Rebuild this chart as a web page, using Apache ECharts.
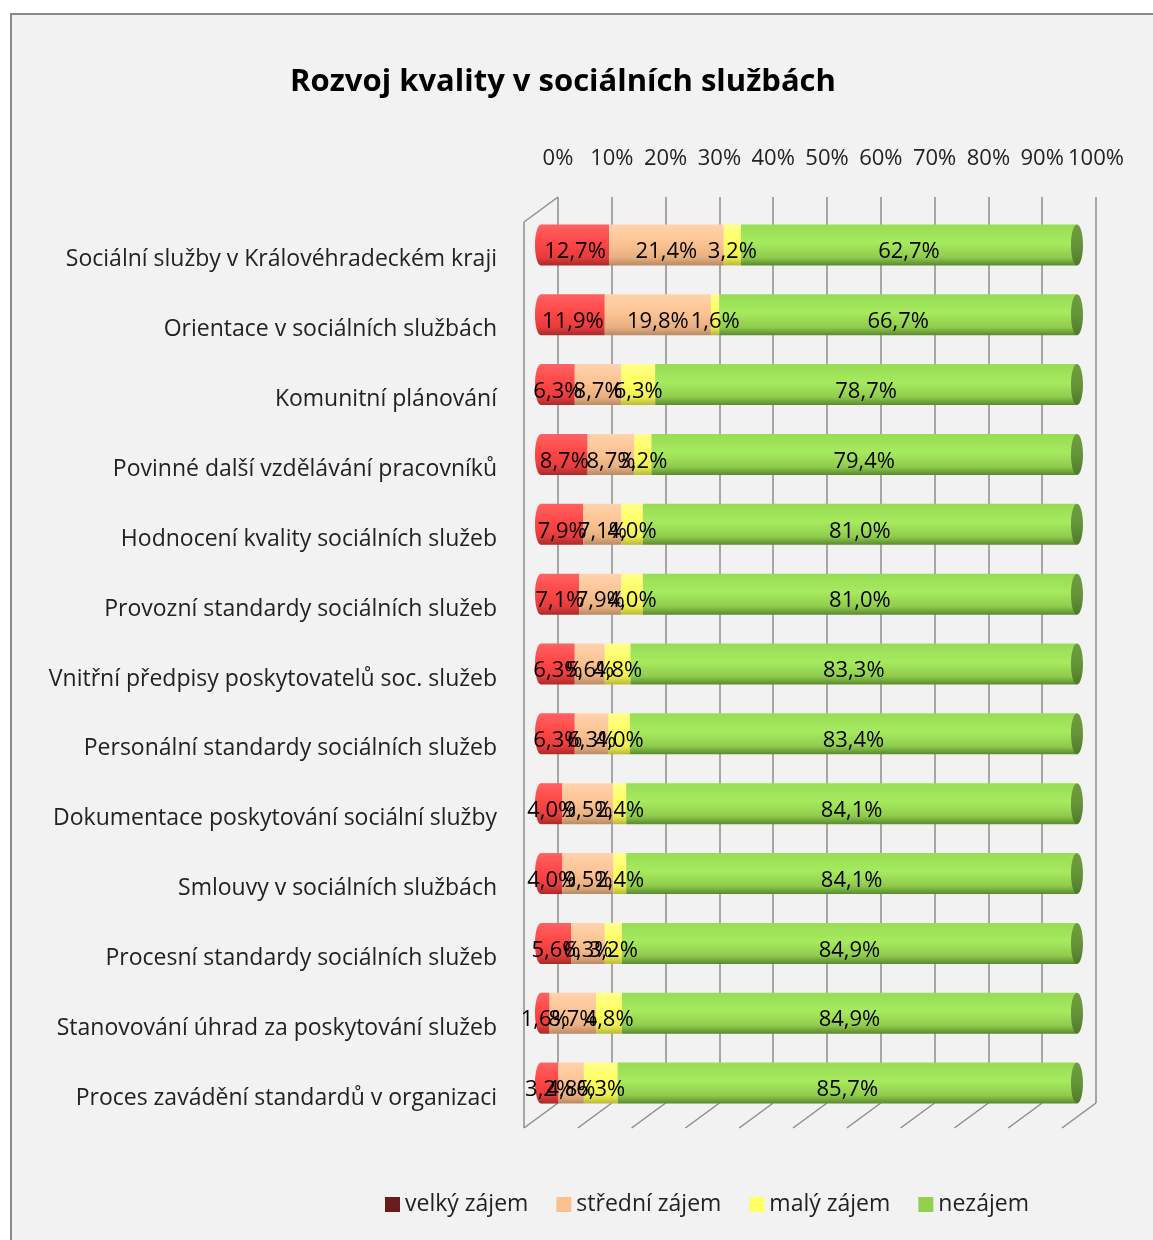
<!DOCTYPE html>
<html><head><meta charset="utf-8">
<script src="https://cdn.jsdelivr.net/npm/echarts@6/dist/echarts.min.js"></script>
<style>
html,body{margin:0;padding:0;background:#fff;}
#frame{position:absolute;left:10px;top:13px;width:1160px;height:1240px;background:#f2f2f2;border-left:2px solid #8a8a8a;border-top:2px solid #8a8a8a;}
#chart{position:absolute;left:0;top:0;width:1153px;height:1240px;}
</style></head>
<body>
<div id="frame"></div>
<div id="chart"></div>
<script>
const categories = [
  'Sociální služby v Královéhradeckém kraji',
  'Orientace v sociálních službách',
  'Komunitní plánování',
  'Povinné další vzdělávání pracovníků',
  'Hodnocení kvality sociálních služeb',
  'Provozní standardy sociálních služeb',
  'Vnitřní předpisy poskytovatelů soc. služeb',
  'Personální standardy sociálních služeb',
  'Dokumentace poskytování sociální služby',
  'Smlouvy v sociálních službách',
  'Procesní standardy sociálních služeb',
  'Stanovování úhrad za poskytování služeb',
  'Proces zavádění standardů v organizaci'
];
const velky   = [12.7, 11.9, 6.3, 8.7, 7.9, 7.1, 6.3, 6.3, 4.0, 4.0, 5.6, 1.6, 3.2];
const stredni = [21.4, 19.8, 8.7, 8.7, 7.1, 7.9, 5.6, 6.3, 9.5, 9.5, 6.3, 8.7, 4.8];
const maly    = [3.2, 1.6, 6.3, 3.2, 4.0, 4.0, 4.8, 4.0, 2.4, 2.4, 3.2, 4.8, 6.3];
const nezajem = [62.7, 66.7, 78.7, 79.4, 81.0, 81.0, 83.3, 83.4, 84.1, 84.1, 84.9, 84.9, 85.7];
const seriesNames = ['velký zájem', 'střední zájem', 'malý zájem', 'nezájem'];
const xMin = 0, xMax = 100, xStep = 10;

const FONT = '"Open Sans", Lato, sans-serif';
const BACK_TOP = 197, BACK_BOTTOM = 1103, DX = -34, DY = 25;
const BAR_W = 41;

function grad(stops){
  return new echarts.graphic.LinearGradient(0,0,0,1, stops.map((c,i)=>({offset:c[0], color:c[1]})));
}
const fills = [
  grad([[0,'#ff6262'],[0.45,'#ff4646'],[0.8,'#e63c3c'],[1,'#a82a2a']]),
  grad([[0,'#ffd3ad'],[0.45,'#fcc393'],[0.8,'#e8b080'],[1,'#b88a64']]),
  grad([[0,'#ffff8a'],[0.45,'#ffff60'],[0.8,'#eeee50'],[1,'#b8b838']]),
  grad([[0,'#98dc56'],[0.45,'#a6ea5e'],[0.8,'#90cc4c'],[1,'#5a8a2e']])
];
const legendColors = ['#6a1c1c', '#fac090', '#ffff66', '#92d050'];
const dataSets = [velky, stredni, maly, nezajem];

const fmt = p => p.value.toFixed(1).replace('.', ',') + '%';

const barSeries = dataSets.map((d, i) => ({
  name: seriesNames[i],
  type: 'bar',
  stack: 'total',
  xAxisIndex: 1, yAxisIndex: 1,
  barWidth: BAR_W,
  data: d,
  z: 3,
  itemStyle: { color: fills[i] },
  label: {
    show: true, position: 'inside', formatter: fmt,
    color: '#000', fontFamily: FONT, fontSize: 22, offset: [0, 7]
  }
}));

const leftCap = {
  type: 'custom', name: 'leftCap', xAxisIndex: 1, yAxisIndex: 1, z: 2,
  data: categories.map((c, i) => [0, i]),
  renderItem: (params, api) => {
    const p = api.coord([api.value(0), api.value(1)]);
    return { type: 'ellipse', shape: { cx: p[0], cy: p[1], rx: 6, ry: BAR_W/2 },
      style: { fill: fills[0] } };
  },
  silent: true
};
const rightCap = {
  type: 'custom', name: 'rightCap', xAxisIndex: 1, yAxisIndex: 1, z: 4,
  data: categories.map((c, i) => [xMax, i]),
  renderItem: (params, api) => {
    const p = api.coord([api.value(0), api.value(1)]);
    return { type: 'ellipse', shape: { cx: p[0], cy: p[1], rx: 6, ry: BAR_W/2 },
      style: { fill: grad([[0,'#6e9e3a'],[0.5,'#66943a'],[1,'#4e7a26']]) } };
  },
  silent: true
};

const chart = echarts.init(document.getElementById('chart'), null, { renderer: 'canvas' });
const option = {
  backgroundColor: 'transparent',
  animation: false,
  textStyle: { fontFamily: FONT },
  legend: {
    data: seriesNames.map((n, i) => ({ name: n, itemStyle: { color: legendColors[i] } })),
    left: 380, top: 1188, icon: 'rect', itemWidth: 15, itemHeight: 15, itemGap: 28,
    textStyle: { fontSize: 23, color: '#222', fontFamily: FONT }
  },
  grid: [
    { left: 558, right: 1153 - 1096, top: BACK_TOP, bottom: 1240 - BACK_BOTTOM },
    { left: 541, right: 1153 - 1077, top: 210, bottom: 1240 - 1118 }
  ],
  xAxis: [
    { type: 'value', gridIndex: 0, position: 'top', min: xMin, max: xMax, interval: xStep,
      axisLine: { show: false }, axisTick: { show: false },
      axisLabel: { formatter: '{value}%', fontSize: 22, color: '#222', margin: 27, fontFamily: FONT },
      splitLine: { show: true, lineStyle: { color: '#8c8c8c', width: 1.5 } } },
    { type: 'value', gridIndex: 1, min: xMin, max: xMax, interval: xStep, show: false,
      splitLine: { show: false } }
  ],
  yAxis: [
    { type: 'category', gridIndex: 0, data: categories, inverse: true, show: false },
    { type: 'category', gridIndex: 1, data: categories, inverse: true,
      axisLine: { show: false }, axisTick: { show: false },
      axisLabel: { fontSize: 23, color: '#222', margin: 44, verticalAlign: 'top', lineHeight: 30, fontFamily: FONT } }
  ],
  series: [leftCap, ...barSeries, rightCap]
};
chart.setOption(option);

// 3D frame: floor diagonals, top-left diagonal and front-left edge derived from the back-wall axis
const lines = [];
const ls = { stroke: '#8c8c8c', lineWidth: 1.5 };
for (let v = xMin; v <= xMax; v += xStep) {
  const x = chart.convertToPixel({ xAxisIndex: 0 }, v);
  lines.push({ type: 'line', z: 1, shape: { x1: x, y1: BACK_BOTTOM, x2: x + DX, y2: BACK_BOTTOM + DY }, style: ls });
}
const x0 = chart.convertToPixel({ xAxisIndex: 0 }, xMin);
lines.push({ type: 'line', z: 1, shape: { x1: x0, y1: BACK_TOP, x2: x0 + DX, y2: BACK_TOP + DY }, style: ls });
lines.push({ type: 'line', z: 1, shape: { x1: x0 + DX, y1: BACK_TOP + DY, x2: x0 + DX, y2: BACK_BOTTOM + DY }, style: ls });
lines.push({ type: 'text', z: 5, x: 563, y: 82,
  style: { text: 'Rozvoj kvality v sociálních službách', align: 'center', verticalAlign: 'middle',
    font: 'bold 31px ' + FONT, fill: '#000' } });
chart.setOption({ graphic: lines });
</script>
</body></html>
